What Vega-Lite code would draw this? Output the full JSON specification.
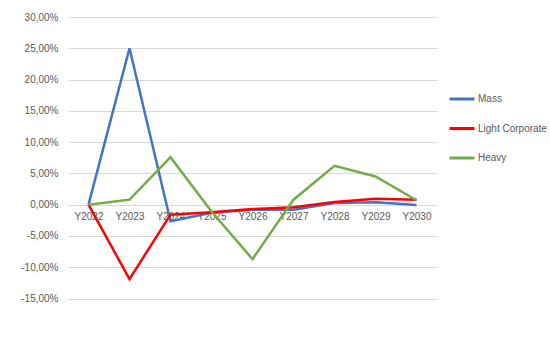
{
  "$schema": "https://vega.github.io/schema/vega-lite/v6.json",
  "autosize": {"type": "none"},
  "width": 369,
  "height": 281.5,
  "padding": {"left": 68, "top": 17, "right": 113, "bottom": 56.5},
  "background": "#ffffff",
  "config": {
    "font": "Liberation Sans",
    "view": {"stroke": null},
    "axis": {"labelFont": "Liberation Sans", "labelFontSize": 10, "labelColor": "#595959", "gridColor": "#d9d9d9", "gridWidth": 1, "domain": false, "ticks": false, "title": null},
    "legend": {"labelFont": "Liberation Sans", "labelFontSize": 10, "labelColor": "#595959"}
  },
  "data": {
    "values": [
      {"year": "Y2022", "series": "Mass", "value": 0},
      {"year": "Y2023", "series": "Mass", "value": 0.25},
      {"year": "Y2024", "series": "Mass", "value": -0.0265},
      {"year": "Y2025", "series": "Mass", "value": -0.013},
      {"year": "Y2026", "series": "Mass", "value": -0.008},
      {"year": "Y2027", "series": "Mass", "value": -0.008},
      {"year": "Y2028", "series": "Mass", "value": 0.0027},
      {"year": "Y2029", "series": "Mass", "value": 0.004},
      {"year": "Y2030", "series": "Mass", "value": -0.0005},
      {"year": "Y2022", "series": "Light Corporate", "value": 0},
      {"year": "Y2023", "series": "Light Corporate", "value": -0.119},
      {"year": "Y2024", "series": "Light Corporate", "value": -0.016},
      {"year": "Y2025", "series": "Light Corporate", "value": -0.012},
      {"year": "Y2026", "series": "Light Corporate", "value": -0.007},
      {"year": "Y2027", "series": "Light Corporate", "value": -0.004},
      {"year": "Y2028", "series": "Light Corporate", "value": 0.0043},
      {"year": "Y2029", "series": "Light Corporate", "value": 0.0096},
      {"year": "Y2030", "series": "Light Corporate", "value": 0.008},
      {"year": "Y2022", "series": "Heavy", "value": 0},
      {"year": "Y2023", "series": "Heavy", "value": 0.008},
      {"year": "Y2024", "series": "Heavy", "value": 0.076},
      {"year": "Y2025", "series": "Heavy", "value": -0.011},
      {"year": "Y2026", "series": "Heavy", "value": -0.087},
      {"year": "Y2027", "series": "Heavy", "value": 0.008},
      {"year": "Y2028", "series": "Heavy", "value": 0.062},
      {"year": "Y2029", "series": "Heavy", "value": 0.045},
      {"year": "Y2030", "series": "Heavy", "value": 0.007}
    ]
  },
  "mark": {"type": "line", "strokeWidth": 2.5, "strokeJoin": "miter"},
  "encoding": {
    "x": {
      "field": "year", "type": "ordinal",
      "scale": {"type": "point", "padding": 0.5},
      "axis": {"labelAngle": 0, "offset": -93.5, "labelPadding": 6, "grid": false, "labelFontSize": 10}
    },
    "y": {
      "field": "value", "type": "quantitative",
      "scale": {"domain": [-0.15, 0.3], "nice": false, "zero": false},
      "axis": {"values": [-0.15, -0.1, -0.05, 0, 0.05, 0.1, 0.15, 0.2, 0.25, 0.3], "labelPadding": 10, "labelExpr": "replace(replace(format(datum.value, '.2%'), '.', ','), '\u2212', '-')"}
    },
    "color": {
      "field": "series", "type": "nominal",
      "scale": {"domain": ["Mass", "Light Corporate", "Heavy"], "range": ["#4472C4", "#FF0000", "#70AD47"]},
      "legend": {"title": null, "orient": "none", "legendX": 380, "legendY": 68, "symbolType": "stroke", "symbolSize": 625, "symbolStrokeWidth": 3, "labelOffset": 2, "rowPadding": 9.5}
    },
    "order": {"field": "year"}
  }
}
